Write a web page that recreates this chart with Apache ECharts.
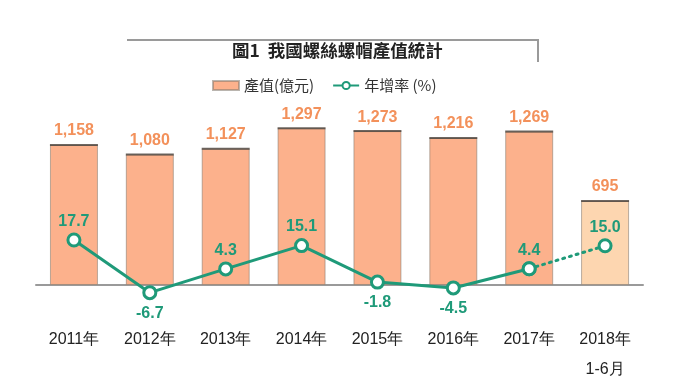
<!DOCTYPE html>
<html><head><meta charset="utf-8">
<script src="https://cdn.jsdelivr.net/npm/echarts@6/dist/echarts.min.js"></script>
<style>html,body{margin:0;padding:0;background:#fff}#c{width:680px;height:383px}</style>
</head><body><div id="c"></div>
<script>
var categories = ['2011年','2012年','2013年','2014年','2015年','2016年','2017年','2018年\n1-6月'];
var outputValues = [1158, 1080, 1127, 1297, 1273, 1216, 1269, 695];
var growthRates = [17.7, -6.7, 4.3, 15.1, -1.8, -4.5, 4.4, 15.0];
var solidCount = 7; // years with full-year data

var barColor = '#FCB18C', barColorPartial = '#FDD6B0';
var lineColor = '#1F9A79';

var barData = outputValues.map(function(v, i){
  return {value: v, itemStyle: {color: i < solidCount ? barColor : barColorPartial}};
});
var solidLine = growthRates.map(function(v, i){
  if (i >= solidCount) return '-';
  return {value: v, label: {position: v < 0 ? 'bottom' : 'top', distance: v < 0 ? 5 : 3}};
});
var dottedLine = growthRates.map(function(v, i){
  if (i < solidCount - 1) return '-';
  return {value: v, label: {show: i >= solidCount, position: v < 0 ? 'bottom' : 'top', distance: v < 0 ? 5 : 3}};
});
function oneDecimal(p){ return Number(p.value).toFixed(1); }

var chart = echarts.init(document.getElementById('c'), null, {renderer: 'canvas'});
chart.setOption({
  animation: false,
  backgroundColor: '#fff',
  title: {
    text: '圖1  我國螺絲螺帽產值統計',
    left: 227, top: 37,
    textStyle: {fontFamily: 'Noto Sans CJK TC', fontSize: 17.5, fontWeight: 'bold', color: '#222'}
  },
  graphic: [{
    type: 'polyline',
    shape: {points: [[127, 40], [538, 40], [538, 62]]},
    style: {stroke: '#9a9a9a', lineWidth: 2, fill: null}
  }],
  legend: {
    top: 73, left: 207,
    itemGap: 18,
    itemWidth: 26, itemHeight: 9,
    textStyle: {fontFamily: 'Noto Sans CJK TC', fontSize: 15, color: '#333'},
    data: [{name: '產值(億元)', icon: 'rect'}, {name: '年增率 (%)'}]
  },
  grid: {left: 36, right: 37, top: 100, bottom: 83, containLabel: false, outerBoundsMode: 'none'},
  xAxis: {
    type: 'category',
    data: categories,
    axisLine: {onZero: true, onZeroAxisIndex: 0, lineStyle: {color: '#9a9a9a', width: 2}},
    axisTick: {show: false},
    axisLabel: {
      margin: 25, fontFamily: 'Liberation Sans', fontSize: 16, color: '#222',
      lineHeight: 30, interval: 0, verticalAlign: 'top'
    }
  },
  yAxis: [{
    type: 'value', min: -124.1, max: 1530.2, show: false, splitLine: {show: false}
  }, {
    type: 'value', min: -10.09, max: 82.5, show: false, splitLine: {show: false}
  }],
  series: [{
    name: '產值(億元)',
    type: 'bar',
    yAxisIndex: 0,
    barWidth: 48,
    data: barData,
    itemStyle: {color: barColor, borderColor: 'rgba(130,120,110,0.55)', borderWidth: 1},
    label: {
      show: true, position: 'top', distance: 6,
      fontFamily: 'Liberation Sans', fontSize: 16, fontWeight: 'bold', color: '#F3915B',
      formatter: function(p){ return p.value.toLocaleString('en-US'); }
    },
    z: 1
  }, {
    name: '頂線',
    type: 'scatter',
    yAxisIndex: 0,
    symbol: 'rect',
    symbolSize: [48, 2],
    itemStyle: {color: '#4a4038'},
    data: outputValues,
    silent: true,
    z: 2
  }, {
    name: '年增率 (%)',
    type: 'line',
    yAxisIndex: 1,
    data: solidLine,
    symbol: 'circle',
    symbolSize: 12,
    showAllSymbol: true,
    clip: false,
    lineStyle: {color: lineColor, width: 3},
    itemStyle: {color: '#fff', borderColor: lineColor, borderWidth: 3},
    label: {
      show: true, formatter: oneDecimal,
      fontFamily: 'Liberation Sans', fontSize: 16, fontWeight: 'bold', color: lineColor
    },
    z: 4
  }, {
    name: '年增率預估',
    type: 'line',
    yAxisIndex: 1,
    data: dottedLine,
    symbol: 'circle',
    symbolSize: 12,
    showAllSymbol: true,
    clip: false,
    lineStyle: {color: lineColor, width: 3, type: [2, 5], cap: 'round'},
    itemStyle: {color: '#fff', borderColor: lineColor, borderWidth: 3},
    label: {
      show: false, formatter: oneDecimal,
      fontFamily: 'Liberation Sans', fontSize: 16, fontWeight: 'bold', color: lineColor
    },
    z: 3
  }]
});
</script>
</body></html>
